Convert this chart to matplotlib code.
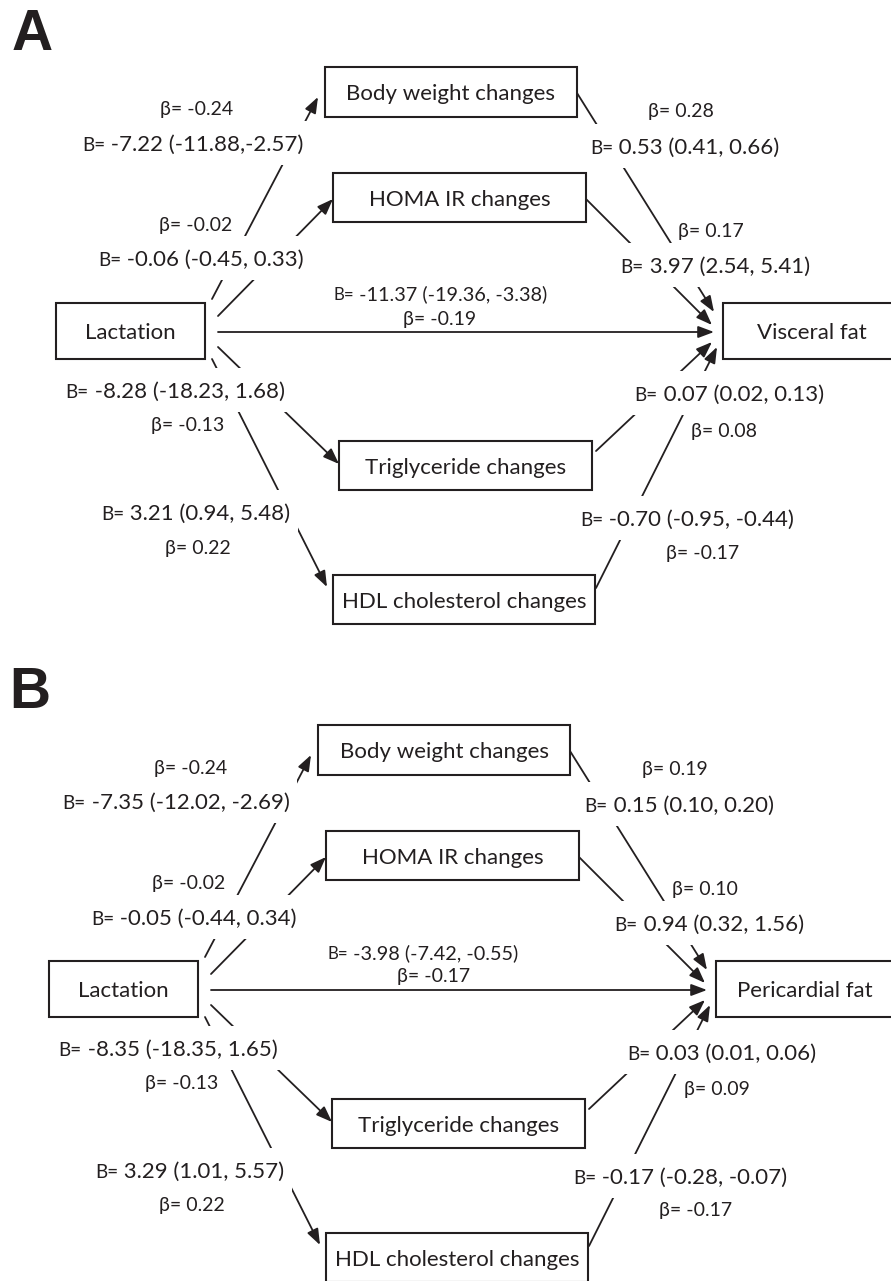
import matplotlib
matplotlib.use('Agg')
import matplotlib.pyplot as plt
from matplotlib.patches import Rectangle

plt.rcParams['font.family'] = ['Lato', 'DejaVu Sans']
INK = '#231f20'

# ---- data ----
paths = ['lact_bw', 'lact_homa', 'lact_out', 'bw_out', 'homa_out',
         'lact_tg', 'lact_hdl', 'tg_out', 'hdl_out']
exposure = 'Lactation'
mediators = ['Body weight changes', 'HOMA IR changes',
             'Triglyceride changes', 'HDL cholesterol changes']
outcomes = ['Visceral fat', 'Pericardial fat']

coef_a = ['-7.22 (-11.88,-2.57)', '-0.06 (-0.45, 0.33)', '-11.37 (-19.36, -3.38)',
          '0.53 (0.41, 0.66)', '3.97 (2.54, 5.41)', '-8.28 (-18.23, 1.68)',
          '3.21 (0.94, 5.48)', '0.07 (0.02, 0.13)', '-0.70 (-0.95, -0.44)']
beta_a = [-0.24, -0.02, -0.19, 0.28, 0.17, -0.13, 0.22, 0.08, -0.17]

coef_b = ['-7.35 (-12.02, -2.69)', '-0.05 (-0.44, 0.34)', '-3.98 (-7.42, -0.55)',
          '0.15 (0.10, 0.20)', '0.94 (0.32, 1.56)', '-8.35 (-18.35, 1.65)',
          '3.29 (1.01, 5.57)', '0.03 (0.01, 0.06)', '-0.17 (-0.28, -0.07)']
beta_b = [-0.24, -0.02, -0.17, 0.19, 0.10, -0.13, 0.22, 0.09, -0.17]

# ---- layout (pixels, panel A; panel B is shifted) ----
boxes = {'lact': (56, 303, 205, 359), 'bw': (325, 67, 577, 117),
         'homa': (333, 173, 586, 222), 'tg': (339, 441, 592, 490),
         'hdl': (333, 575, 595, 624), 'out': (723, 303, 901, 359)}
arrows = {'lact_bw': ((212, 299), (318, 97)), 'lact_homa': ((218, 316), (333, 199)),
          'lact_out': ((218, 332), (714, 332)), 'bw_out': ((577, 93), (714, 312)),
          'homa_out': ((586, 199), (712, 325)), 'lact_tg': ((218, 347), (339, 464)),
          'lact_hdl': ((212, 359), (327, 587)), 'tg_out': ((596, 451), (712, 342)),
          'hdl_out': ((596, 588), (717, 347))}

pos_a = {'coef': [(193, 143), (201, 258), (440, 293), (685, 146), (715, 265),
                  (175, 390), (196, 512), (729, 393), (687, 518)],
         'beta': [(197, 108), (196, 224), (440, 318), (681, 110), (711, 230),
                  (188, 424), (198, 547), (724, 430), (703, 552)]}
pos_b = {'coef': [(176, 801), (194, 917), (423, 952), (679, 804), (709, 923),
                  (168, 1048), (190, 1170), (722, 1052), (680, 1176)],
         'beta': [(191, 767), (189, 882), (434, 975), (675, 768), (705, 888),
                  (182, 1082), (192, 1204), (717, 1088), (696, 1209)]}

BOX_FS = 16
COEF_FS = 16
MID_FS = 14.3
BETA_FS = 14

fig = plt.figure(figsize=(8.91, 12.81), dpi=100)
ax = fig.add_axes([0, 0, 1, 1])
ax.set_xlim(0, 891)
ax.set_ylim(1281, 0)
ax.axis('off')
renderer = fig.canvas.get_renderer()

PX = 100 / 72


def coef_label(x, y, rest, size, mask=True):
    base = y + 0.36 * size * PX
    t1 = ax.text(0, base, 'B=', fontsize=size * 0.85, color=INK, va='baseline', zorder=4)
    t2 = ax.text(0, base, ' ' + rest, fontsize=size, color=INK, va='baseline', zorder=4)
    w1 = t1.get_window_extent(renderer).width
    w2 = t2.get_window_extent(renderer).width
    x0 = x - (w1 + w2) / 2
    t1.set_x(x0)
    t2.set_x(x0 + w1)
    if mask:
        ax.add_patch(Rectangle((x0 - 7, y - 22), w1 + w2 + 14, 44,
                               fc='white', ec='none', zorder=3))


def draw_panel(letter, dx, dy, outcome, coefs, betas, pos):
    ax.text(12 + dx * 0.4, 50 + dy, letter, fontsize=41, fontweight='bold',
            family='Liberation Sans', color=INK, va='baseline')
    names = {'lact': exposure, 'bw': mediators[0], 'homa': mediators[1],
             'tg': mediators[2], 'hdl': mediators[3], 'out': outcome}
    for key, (x0, y0, x1, y1) in boxes.items():
        ax.add_patch(Rectangle((x0 + dx, y0 + dy), x1 - x0, y1 - y0, fc='white',
                               ec=INK, lw=1.5, zorder=5))
        ax.text((x0 + x1) / 2 + dx, (y0 + y1) / 2 + dy + 0.36 * BOX_FS * PX, names[key],
                fontsize=BOX_FS, color=INK, ha='center', va='baseline', zorder=6)
    for i, p in enumerate(paths):
        (sx, sy), (ex, ey) = arrows[p]
        ax.annotate('', xy=(ex + dx, ey + dy), xytext=(sx + dx, sy + dy),
                    arrowprops=dict(arrowstyle='-|>,head_length=0.8,head_width=0.3',
                                    mutation_scale=12, color=INK, lw=1.3,
                                    shrinkA=0, shrinkB=0), zorder=2)
        cx, cy = pos['coef'][i]
        direct = p == 'lact_out'
        coef_label(cx, cy, coefs[i], MID_FS if direct else COEF_FS, mask=not direct)
        bx, by = pos['beta'][i]
        ax.text(bx, by + 0.36 * BETA_FS * PX, f'β= {betas[i]:.2f}', fontsize=BETA_FS,
                color=INK, ha='center', va='baseline', zorder=4)


draw_panel('A', 0, 0, outcomes[0], coef_a, beta_a, pos_a)
draw_panel('B', -7, 658, outcomes[1], coef_b, beta_b, pos_b)

fig.savefig('out.png', dpi=100, facecolor='white')
